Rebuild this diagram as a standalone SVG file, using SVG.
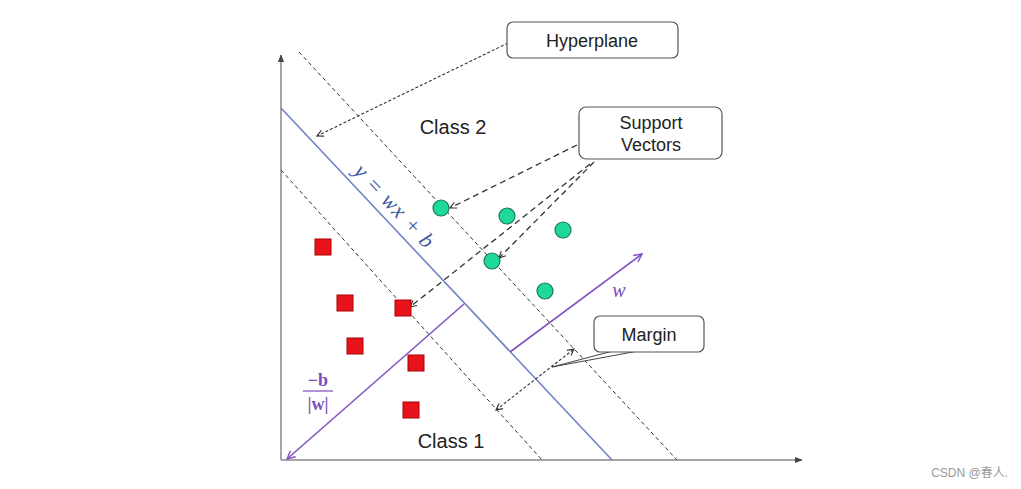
<svg xmlns="http://www.w3.org/2000/svg" width="1021" height="489" viewBox="0 0 1021 489">
<style>
.axis{stroke:#888;stroke-width:1.5;fill:none}
.bound{stroke:#333;stroke-width:1;stroke-dasharray:4 3;fill:none}
.hyp{stroke:#6f82c6;stroke-width:1.6;fill:none}
.vec{stroke:#8355c4;stroke-width:1.6;fill:none}
.call{stroke:#333;stroke-width:1.3;stroke-dasharray:6 4;fill:none}
.thin{stroke:#333;stroke-width:1.1;stroke-dasharray:3 2;fill:none}
.box{fill:#fff;stroke:#555;stroke-width:1.2}
.lbl{font-family:"Liberation Sans",Arial,sans-serif;font-size:18px;fill:#222;text-anchor:middle}
.cls{font-size:20px}
.pos{fill:#1fd99a;stroke:#1a7a55;stroke-width:1.2}
.neg{fill:#e8141c;stroke:#a00;stroke-width:1}
</style>
<defs>
<marker id="ah" viewBox="0 0 10 10" refX="9" refY="5" markerWidth="8" markerHeight="8" orient="auto-start-reverse" markerUnits="userSpaceOnUse"><path d="M1,1 L9,5 L1,9" fill="none" stroke="#333" stroke-width="1.4"/></marker>
<marker id="ahv" viewBox="0 0 10 10" refX="9" refY="5" markerWidth="10" markerHeight="10" orient="auto-start-reverse" markerUnits="userSpaceOnUse"><path d="M1,1 L9,5 L1,9" fill="none" stroke="#8355c4" stroke-width="1.4"/></marker>
<marker id="axh" viewBox="0 0 10 10" refX="9" refY="5" markerWidth="8" markerHeight="8" orient="auto" markerUnits="userSpaceOnUse"><path d="M0,1 L10,5 L0,9 Z" fill="#444"/></marker>
</defs>
<rect width="1021" height="489" fill="#fff"/>
<g id="axes">
<line class="axis" x1="281" y1="460" x2="281" y2="55" marker-end="url(#axh)"/>
<line class="axis" x1="281" y1="460" x2="802" y2="460" marker-end="url(#axh)"/>
</g>
<g id="connectors">
<line class="bound" x1="299" y1="52" x2="677" y2="460"/>
<line class="bound" x1="281" y1="170" x2="542" y2="460"/>
<line class="hyp" x1="281" y1="108" x2="612" y2="460"/>
<line class="vec" x1="510" y1="352" x2="642" y2="254" marker-end="url(#ahv)"/>
<line class="vec" x1="464" y1="304" x2="287" y2="459" marker-end="url(#ahv)"/>
<line class="thin" x1="508" y1="43" x2="317" y2="136" marker-end="url(#ah)"/>
<line class="call" x1="577" y1="145" x2="450" y2="208" marker-end="url(#ah)"/>
<line class="call" x1="594" y1="162" x2="499" y2="258" marker-end="url(#ah)"/>
<line class="call" x1="590" y1="164" x2="410" y2="307" marker-end="url(#ah)"/>
<line class="thin" x1="496" y1="410" x2="574" y2="349" marker-start="url(#ah)" marker-end="url(#ah)"/>
</g>
<g id="points">
<circle class="pos" cx="441" cy="208" r="8"/>
<circle class="pos" cx="507" cy="216" r="8"/>
<circle class="pos" cx="563" cy="230" r="8"/>
<circle class="pos" cx="492" cy="261" r="8"/>
<circle class="pos" cx="545" cy="291" r="8"/>
<rect class="neg" x="315" y="239" width="16" height="16"/>
<rect class="neg" x="337" y="295" width="16" height="16"/>
<rect class="neg" x="395" y="300" width="16" height="16"/>
<rect class="neg" x="347" y="338" width="16" height="16"/>
<rect class="neg" x="408" y="355" width="16" height="16"/>
<rect class="neg" x="403" y="402" width="16" height="16"/>
</g>
<g id="hyperplane-label">
<rect class="box" x="507" y="22" width="171" height="36" rx="6"/>
<text class="lbl" x="592" y="47">Hyperplane</text>
</g>
<g id="support-vectors-label">
<rect class="box" x="579" y="107" width="143" height="52" rx="7"/>
<text class="lbl" x="651" y="129">Support</text>
<text class="lbl" x="651" y="151">Vectors</text>
</g>
<g id="margin-label">
<path d="M613,351 L552,367 L638,351 Z" fill="#fff" stroke="#444" stroke-width="1"/>
<rect class="box" x="594" y="316" width="110" height="36" rx="6"/>
<text class="lbl" x="649" y="341">Margin</text>
</g>
<g id="class-labels">
<text class="lbl cls" x="453" y="134">Class 2</text>
<text class="lbl cls" x="451" y="448">Class 1</text>
</g>
<g id="math-labels">
<text x="395" y="206" transform="rotate(46.7 395 206)" font-family="Liberation Serif,serif" font-style="italic" font-size="22" fill="#3f5aa0" text-anchor="middle" dy="0.35em" letter-spacing="1">y = wx + b</text>
<text x="619" y="297" font-family="Liberation Serif,serif" font-style="italic" font-size="20" fill="#7a4fbd" text-anchor="middle">w</text>
<text x="318" y="386" font-family="Liberation Serif,serif" font-weight="bold" font-size="18" fill="#7a4fbd" text-anchor="middle">−b</text>
<line x1="303" y1="391" x2="333" y2="391" stroke="#7a4fbd" stroke-width="1.2"/>
<text x="318" y="410" font-family="Liberation Serif,serif" font-weight="bold" font-size="18" fill="#7a4fbd" text-anchor="middle">|w|</text>
</g>
<text x="1008" y="477" font-family="Liberation Sans,Noto Sans CJK SC,sans-serif" font-size="12" fill="#999" text-anchor="end">CSDN @春人.</text>
</svg>
